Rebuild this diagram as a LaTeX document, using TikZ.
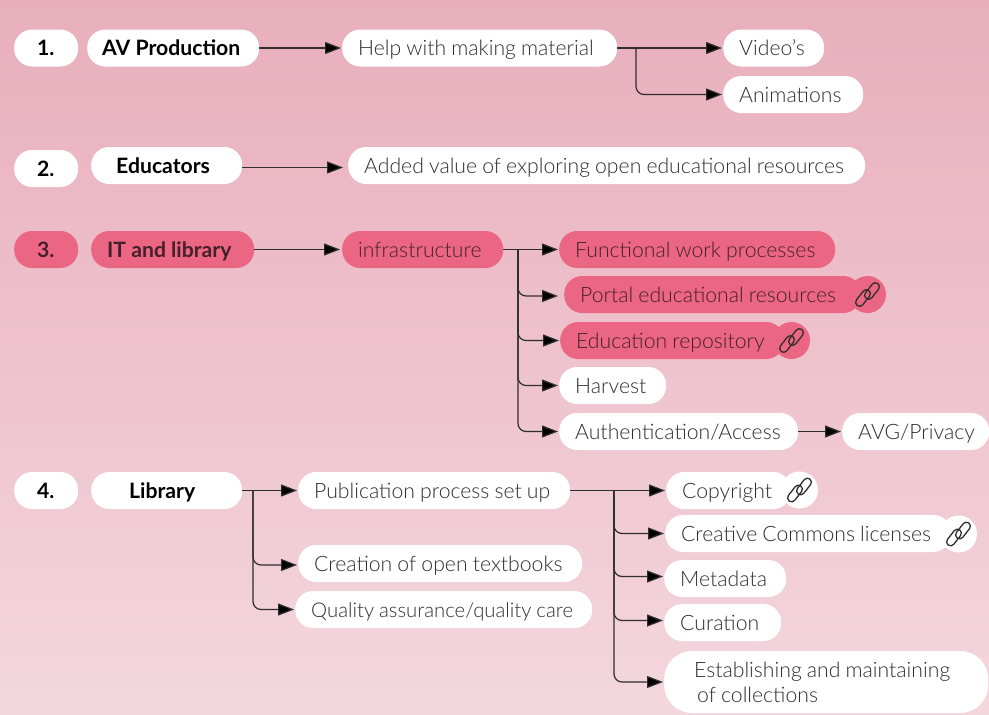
\documentclass[tikz,border=0pt]{standalone}
\usepackage{fontspec}
\setmainfont{Lato}[UprightFont=* Light, BoldFont=* Bold]
\usetikzlibrary{arrows.meta}
\definecolor{rose}{HTML}{EB6682}
\definecolor{bgtop}{HTML}{E8AEBC}
\definecolor{bgbottom}{HTML}{F4D7DE}
\definecolor{ink}{HTML}{2E2E2E}
\definecolor{inkrose}{HTML}{45202C}
\newcommand{\tightwords}{\spaceskip=.24em\relax}
\begin{document}
\begin{tikzpicture}[x=1pt,y=-1pt,
		main/.style = {anchor=west, fill=white, rounded corners=18pt, inner xsep=16pt, inner ysep=6pt, text height=20pt, text depth=5pt, align=left, text=ink, font=\fontsize{21.2}{25}\selectfont, execute at begin node=\tightwords},
		head/.style = {main, text=black, font=\fontsize{21.2}{25}\selectfont\bfseries},
		hot/.style = {fill=rose, text=inkrose},
		ring/.style = {circle, fill=white, minimum size=37pt, inner sep=0pt},
		link/.style = {draw=ink, line width=1.2pt, rounded corners=8pt, shorten >=1pt, -{Triangle[length=16pt,width=12pt,fill=black]}},
		chain/.pic = {
			\draw[line width=1.3pt, rounded corners=4pt, shift={(-4.5,3.5)}, rotate=52, draw=ink] (-9.5,-4) rectangle (9.5,4);
			\draw[line width=1.3pt, rounded corners=4pt, shift={(4.5,-3.5)}, rotate=52, draw=ink] (-9.5,-4) rectangle (9.5,4);
		}]
	\shade[top color=bgtop, bottom color=bgbottom] (0,0) rectangle (989,715);
	\useasboundingbox (0,0) rectangle (989,715);

	\node[head, inner xsep=23pt, text width=18pt] (n1) at (14,48) {1.};
	\node[head, inner xsep=15pt, text width=142pt] (av) at (87,48) {AV Production};
	\node[main, text width=243pt] (help) at (342,48) {Help with making material};
	\node[main, text width=69pt] (video) at (723,48) {Video’s};
	\node[main, text width=108pt] (anim) at (723,94.5) {Animations};

	\node[head, inner xsep=23pt, text width=18pt] (n2) at (14,168.5) {2.};
	\node[head, inner xsep=25pt, text width=101pt] (edu) at (91,165.5) {Educators};
	\node[main, text width=485pt] (added) at (348,165.5) {Added value of exploring open educational resources};

	\node[head, hot, inner xsep=23pt, text width=18pt] (n3) at (14,249.5) {3.};
	\node[head, hot, text width=131pt] (it) at (91,249.5) {IT and library};
	\node[main, hot, text width=129pt] (infra) at (342,249.5) {infrastructure};
	\node[main, hot, text width=244pt] (func) at (559,249.5) {Functional work processes};
	\node[ring, fill=rose] (portalring) at (867.5,294.5) {};
	\node[main, hot, text width=265pt] (portal) at (564,294.5) {Portal educational resources};
	\node[ring, fill=rose] (reporing) at (791.5,340.5) {};
	\node[main, hot, text width=192pt] (repo) at (560,340.5) {Education repository};
	\node[main, text width=75pt] (harvest) at (559,385.5) {Harvest};
	\node[main, text width=207pt] (auth) at (559,431.5) {Authentication/Access};
	\node[main, text width=115pt] (avg) at (842,431.5) {AVG/Privacy};

	\node[head, inner xsep=23pt, text width=18pt] (n4) at (14,490.5) {4.};
	\node[head, inner xsep=38pt, text width=75pt] (lib) at (91,490.5) {Library};
	\node[main, text width=240pt] (pub) at (298,490.5) {Publication process set up};
	\node[main, text width=252pt] (open) at (298,563.5) {Creation of open textbooks};
	\node[main, text width=265pt, font=\fontsize{20.3}{25}\selectfont] (quality) at (295,609.5) {Quality assurance/quality care};
	\node[ring] (copyring) at (799.5,490) {};
	\node[main, text width=93pt] (copy) at (666,490.5) {Copyright};
	\node[ring] (ccring) at (958.5,534) {};
	\node[main, text width=254pt] (cc) at (665,533.5) {Creative Commons licenses};
	\node[main, text width=90pt] (meta) at (664,578.5) {Metadata};
	\node[main, text width=85pt] (cur) at (664,622.5) {Curation};
	\node[main, inner xsep=30pt, text width=264pt, text depth=30pt, rounded corners=28pt] (coll) at (664,682) {Establishing and maintaining\\\hspace*{3pt}of collections};

	\pic at (portalring) {chain};
	\pic at (reporing) {chain};
	\pic at (copyring) {chain};
	\pic at (ccring) {chain};

	\coordinate (helpfork) at (636,48);
	\coordinate (infrafork) at (518,249.5);
	\coordinate (libfork) at (253,490.5);
	\coordinate (pubfork) at (614,490.5);

	\draw[link] (av) -- (help);
	\draw[link] (help) -- (video);
	\draw[link] (helpfork) |- (anim);
	\draw[link, shorten >=5pt] ([yshift=-2pt]edu.east) -- ([yshift=-2pt]added.west);
	\draw[link, shorten >=2pt] (it) -- (infra);
	\draw[link] (infra) -- (func);
	\draw[link, shorten >=6pt] (infrafork) |- ([yshift=-1.5pt]portal.west);
	\draw[link] (infrafork) |- (repo);
	\draw[link] (infrafork) |- (harvest);
	\draw[link] (infrafork) |- (auth);
	\draw[link] (auth) -- (avg);
	\draw[link] (lib) -- (pub);
	\draw[link] (libfork) |- ([yshift=-1.5pt]open.west);
	\draw[link] (libfork) |- (quality);
	\draw[link] (pub) -- (copy);
	\draw[link] (pubfork) |- (cc);
	\draw[link] (pubfork) |- ([yshift=2pt]meta.west);
	\draw[link] (pubfork) |- ([yshift=2pt]cur.west);
	\draw[link] (pubfork) |- (coll);
\end{tikzpicture}
\end{document}
